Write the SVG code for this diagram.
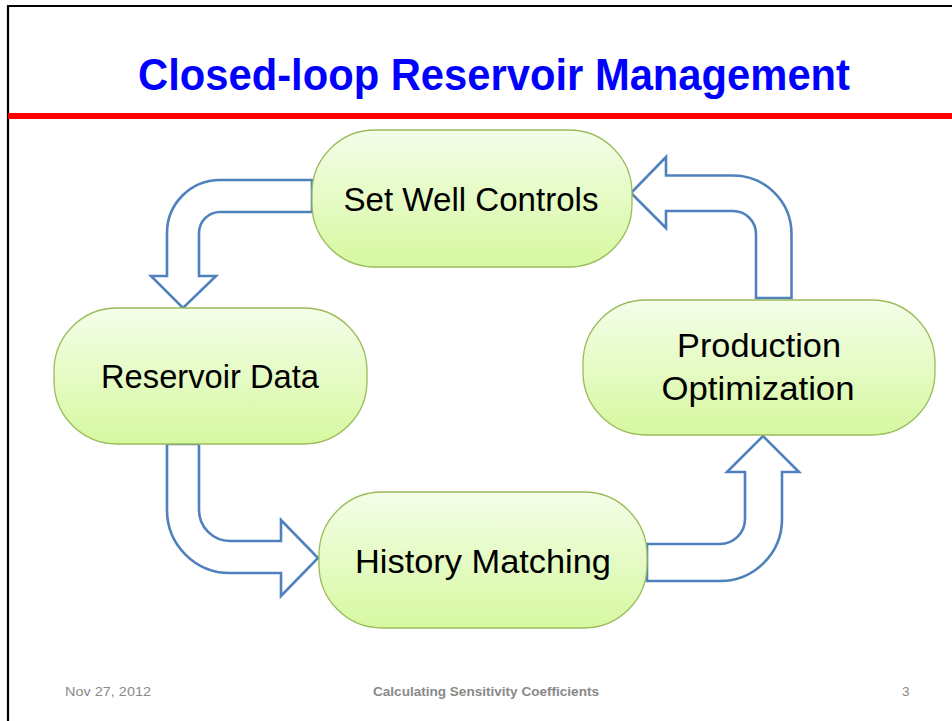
<svg xmlns="http://www.w3.org/2000/svg" width="952" height="721" viewBox="0 0 952 721">
  <defs>
    <linearGradient id="nodeFill" x1="0" y1="0" x2="0" y2="1">
      <stop offset="0" stop-color="#f4fee9"/>
      <stop offset="1" stop-color="#d6f8a0"/>
    </linearGradient>
    <style>
      .frame { fill: none; stroke: #000; stroke-width: 2.2; }
      .rule { fill: #ff0000; }
      .title { font-family: "Liberation Sans", Arial, sans-serif; font-weight: bold; font-size: 44px; fill: #0000ff; }
      .node rect { fill: url(#nodeFill); stroke: #9bbb59; stroke-width: 1.3; }
      .label { font-family: "Liberation Sans", Arial, sans-serif; font-size: 33px; fill: #000; text-anchor: middle; }
      .arrow { fill: #fff; stroke: #4f81bd; stroke-width: 2.6; stroke-linejoin: miter; }
      .foot { font-family: "Liberation Sans", Arial, sans-serif; font-size: 13.5px; fill: #898989; }
    </style>
  </defs>

  <rect width="952" height="721" fill="#fff"/>

  <!-- slide frame and title rule -->
  <path class="frame" d="M8,721 V6 H952"/>
  <rect class="rule" x="8" y="113" width="944" height="6"/>

  <text class="title" x="138" y="90" textLength="712" lengthAdjust="spacingAndGlyphs">Closed-loop Reservoir Management</text>

  <!-- bent block arrows of the cycle -->
  <g id="connectors">
    <path class="arrow" d="M312,180 H220 A53,53 0 0 0 167,233 V276 H151 L183,308 L216,276 H199 V233 A21,21 0 0 1 220,212 H312 Z"/>
    <path class="arrow" d="M167,444 V510 A63,63 0 0 0 230,573 H281 V596 L318,558 L281,520 V541 H230 A31,31 0 0 1 199,510 V444 Z"/>
    <path class="arrow" d="M647,544 H720 A25,25 0 0 0 745,519 V472 H727 L763,436 L799,472 H782 V519 A62,62 0 0 1 720,581 H647 Z"/>
    <path class="arrow" d="M756,298 V234 A23,23 0 0 0 733,211 H666 V228 L631,193 L666,157 V175.5 H733 A58.5,58.5 0 0 1 791.5,234 V298 Z"/>
  </g>

  <g id="set-well-controls" class="node">
    <rect x="312" y="130" width="320" height="137" rx="63" ry="63"/>
    <text class="label" x="471" y="211" textLength="255" lengthAdjust="spacingAndGlyphs">Set Well Controls</text>
  </g>

  <g id="reservoir-data" class="node">
    <rect x="54" y="308" width="313" height="136" rx="63" ry="63"/>
    <text class="label" x="210" y="388" textLength="218" lengthAdjust="spacingAndGlyphs">Reservoir Data</text>
  </g>

  <g id="history-matching" class="node">
    <rect x="319" y="492" width="328" height="136" rx="63" ry="63"/>
    <text class="label" x="483" y="573" textLength="256" lengthAdjust="spacingAndGlyphs">History Matching</text>
  </g>

  <g id="production-optimization" class="node">
    <rect x="583" y="300" width="352" height="135" rx="63" ry="63"/>
    <text class="label" x="759" y="357" textLength="164" lengthAdjust="spacingAndGlyphs">Production</text>
    <text class="label" x="758" y="400" textLength="193" lengthAdjust="spacingAndGlyphs">Optimization</text>
  </g>

  <!-- footer -->
  <text class="foot" x="65" y="696" textLength="86" lengthAdjust="spacingAndGlyphs">Nov 27, 2012</text>
  <text class="foot" x="486" y="696" font-weight="bold" text-anchor="middle" textLength="226" lengthAdjust="spacingAndGlyphs">Calculating Sensitivity Coefficients</text>
  <text class="foot" x="902" y="696">3</text>
</svg>
